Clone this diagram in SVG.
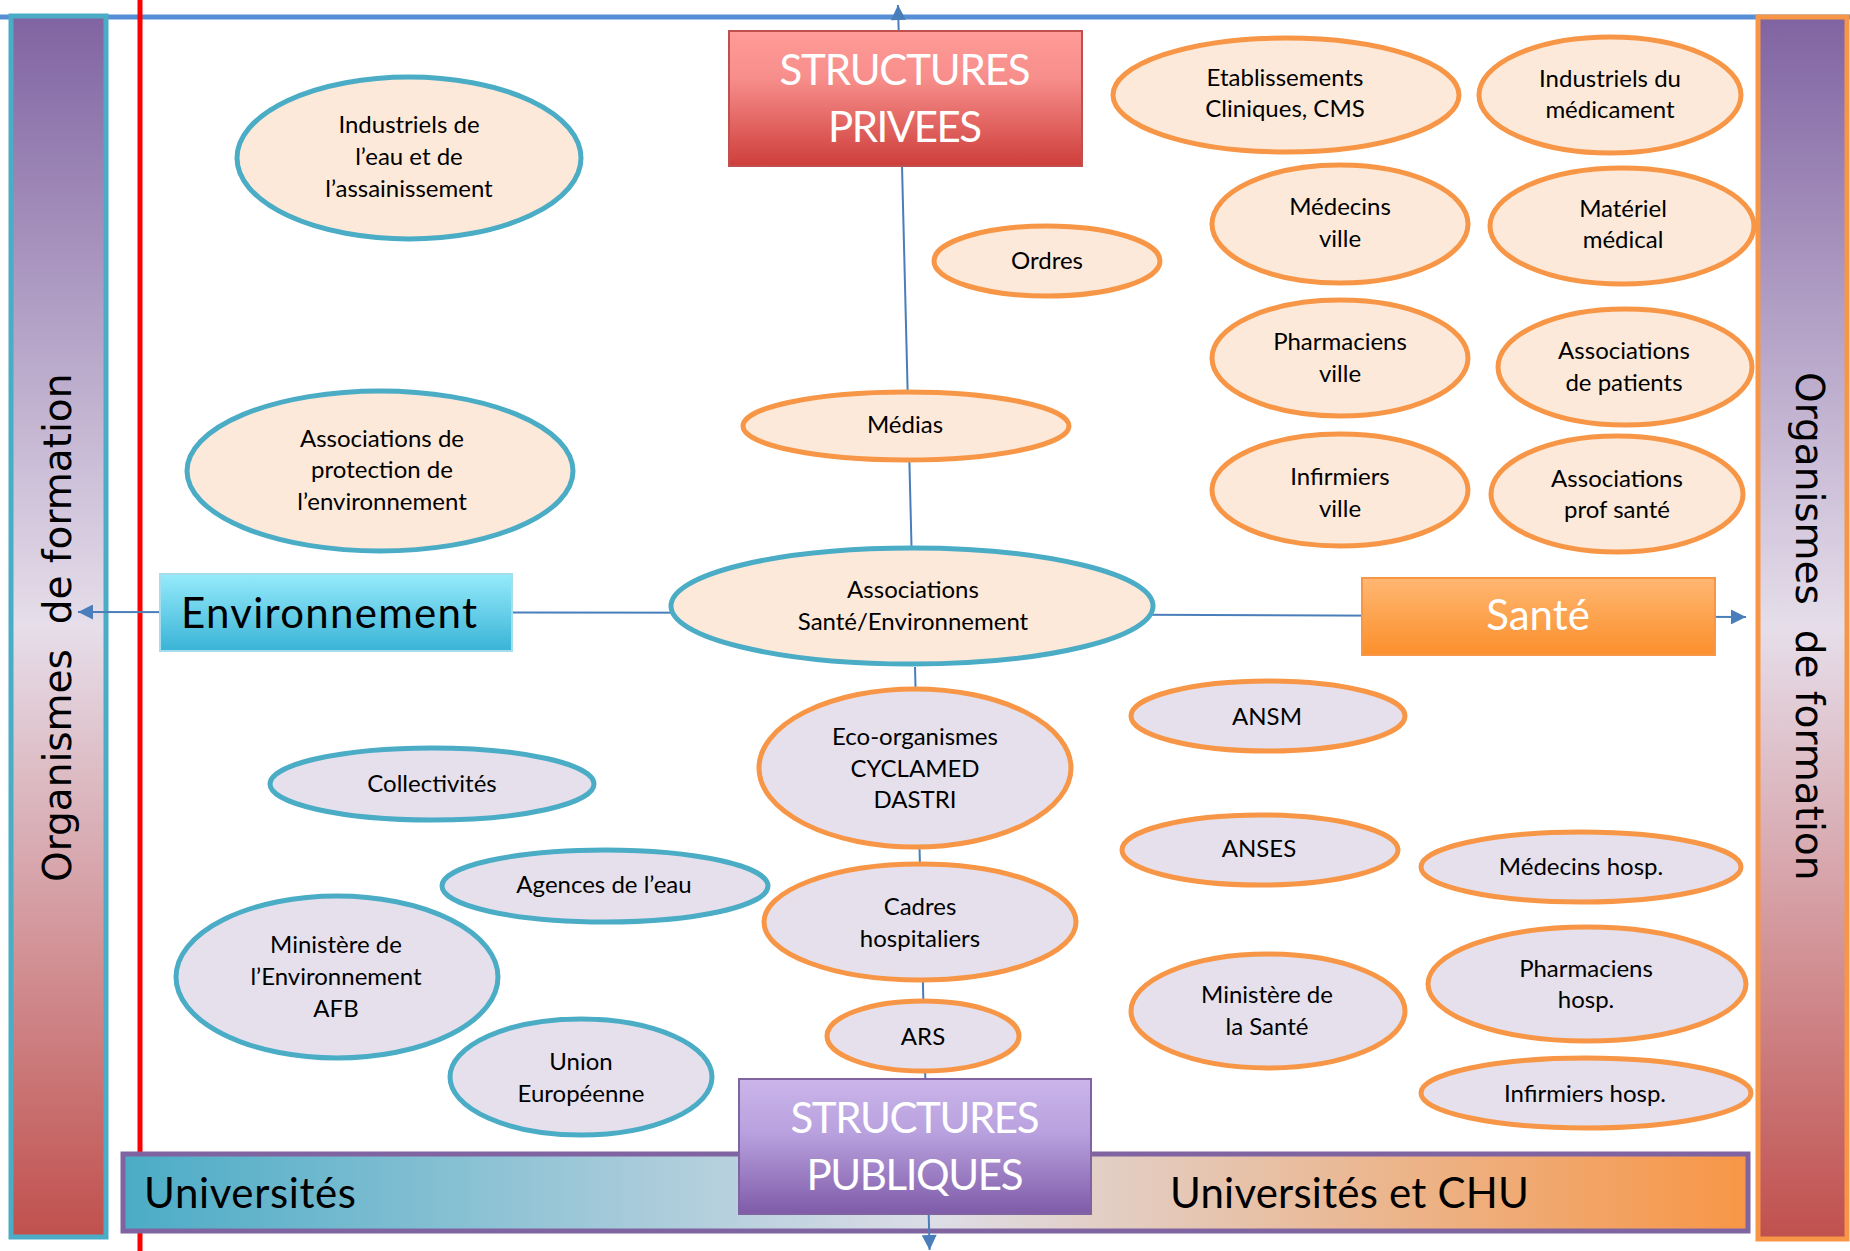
<svg xmlns="http://www.w3.org/2000/svg" width="1850" height="1251" viewBox="0 0 1850 1251">
<style>
.ep{fill:#FDE9D9}
.el{fill:#E5E0EC}
.st{stroke:#4BACC6;stroke-width:5}
.so{stroke:#F79646;stroke-width:5}
.t{font-family:Lato,'Liberation Sans',sans-serif;font-size:24px;text-anchor:middle;fill:#000}
.big{font-family:Lato,'Liberation Sans',sans-serif;font-size:42px;fill:#000}
.w{fill:#FFFFFF}
.rot{font-family:'DejaVu Sans',sans-serif;font-size:39px;fill:#000;white-space:pre}
.cn{stroke:#4A7EBB;stroke-width:2;fill:none}
</style>
<defs>
<linearGradient id="gBar" x1="0" y1="0" x2="0" y2="1">
<stop offset="0" stop-color="#8064A2"/><stop offset="0.5" stop-color="#E6DEEA"/><stop offset="1" stop-color="#C0504D"/>
</linearGradient>
<linearGradient id="gUniv" x1="0" y1="0" x2="1" y2="0">
<stop offset="0" stop-color="#4BACC6"/><stop offset="0.5" stop-color="#DDDDE6"/><stop offset="1" stop-color="#F79646"/>
</linearGradient>
<linearGradient id="gPriv" x1="0" y1="0" x2="0" y2="1">
<stop offset="0" stop-color="#FF9B98"/><stop offset="0.35" stop-color="#F78E8B"/><stop offset="1" stop-color="#CE3E3B"/>
</linearGradient>
<linearGradient id="gEnv" x1="0" y1="0" x2="0" y2="1">
<stop offset="0" stop-color="#96EBFB"/><stop offset="1" stop-color="#39B3D6"/>
</linearGradient>
<linearGradient id="gSante" x1="0" y1="0" x2="0" y2="1">
<stop offset="0" stop-color="#FFB772"/><stop offset="1" stop-color="#FB8F2C"/>
</linearGradient>
<linearGradient id="gPub" x1="0" y1="0" x2="0" y2="1">
<stop offset="0" stop-color="#CBB5EA"/><stop offset="0.4" stop-color="#B8A1DE"/><stop offset="1" stop-color="#7F5BA8"/>
</linearGradient>
<marker id="arr" viewBox="0 0 10 10" refX="10" refY="5" markerUnits="userSpaceOnUse" markerWidth="16" markerHeight="15" orient="auto">
<path d="M0,0 L10,5 L0,10 z" fill="#4A7EBB"/>
</marker>
</defs>

<rect x="0" y="0" width="1850" height="1251" fill="#FFFFFF"/>

<g id="frame">
<line x1="0" y1="17" x2="1850" y2="17" stroke="#558ED5" stroke-width="5"/>
<line x1="140" y1="0" x2="140" y2="1251" stroke="#FF0000" stroke-width="5"/>
</g>

<g id="bar-left">
<rect x="11" y="16" width="95" height="1221" fill="url(#gBar)" stroke="#4BACC6" stroke-width="5"/>
<text class="rot" transform="translate(71,882) rotate(-90)">Organismes  de formation</text>
</g>

<g id="bar-right">
<rect x="1758" y="17" width="89" height="1222" fill="url(#gBar)" stroke="#F79646" stroke-width="5"/>
<text class="rot" transform="translate(1796,372) rotate(90)">Organismes  de formation</text>
</g>

<g id="bar-universites">
<rect x="123" y="1154" width="1625" height="77" fill="url(#gUniv)" stroke="#8064A2" stroke-width="5"/>
<text class="big" x="144" y="1208" textLength="212" lengthAdjust="spacing">Universités</text>
<text class="big" x="1170" y="1208" textLength="359" lengthAdjust="spacing">Universités et CHU</text>
</g>

<g id="connectors">
<line class="cn" x1="911.5" y1="546" x2="898" y2="5" marker-end="url(#arr)"/>
<line class="cn" x1="915" y1="667" x2="929.6" y2="1250" marker-end="url(#arr)"/>
<line class="cn" x1="912" y1="613" x2="78" y2="612" marker-end="url(#arr)"/>
<line class="cn" x1="912" y1="614" x2="1746" y2="617" marker-end="url(#arr)"/>
</g>

<g id="n-privees">
<rect x="729" y="31" width="353" height="135" fill="url(#gPriv)" stroke="#C0504D" stroke-width="2"/>
<text class="big w" x="905" y="85" text-anchor="middle" textLength="251" lengthAdjust="spacing">STRUCTURES</text>
<text class="big w" x="905" y="142" text-anchor="middle" textLength="154" lengthAdjust="spacing">PRIVEES</text>
</g>

<g id="n-publiques">
<rect x="739" y="1079" width="352" height="135" fill="url(#gPub)" stroke="#8064A2" stroke-width="2"/>
<text class="big w" x="915" y="1133" text-anchor="middle" textLength="249" lengthAdjust="spacing">STRUCTURES</text>
<text class="big w" x="915" y="1190" text-anchor="middle" textLength="217" lengthAdjust="spacing">PUBLIQUES</text>
</g>

<g id="n-environnement">
<rect x="160" y="574" width="352" height="77" fill="url(#gEnv)" stroke="#A5DDEC" stroke-width="2"/>
<text class="big" x="181" y="628" textLength="296" lengthAdjust="spacing">Environnement</text>
</g>

<g id="n-sante">
<rect x="1362" y="578" width="353" height="77" fill="url(#gSante)" stroke="#F79646" stroke-width="2"/>
<text class="big w" x="1538" y="630" text-anchor="middle">Santé</text>
</g>

<g id="n-industriels-eau">
<ellipse cx="409" cy="158" rx="172" ry="81" class="ep st"/>
<text class="t"><tspan x="409" y="133">Industriels de</tspan><tspan x="409" y="165">l’eau et de</tspan><tspan x="409" y="197">l’assainissement</tspan></text>
</g>

<g id="n-assoc-protection">
<ellipse cx="380" cy="471" rx="193" ry="80" class="ep st"/>
<text class="t"><tspan x="382" y="447">Associations de</tspan><tspan x="382" y="478">protection de</tspan><tspan x="382" y="510">l’environnement</tspan></text>
</g>

<g id="n-collectivites">
<ellipse cx="432" cy="784" rx="162" ry="36" class="el st"/>
<text class="t" x="432" y="792">Collectivités</text>
</g>

<g id="n-agences-eau">
<ellipse cx="605" cy="886" rx="163" ry="36" class="el st"/>
<text class="t" x="604" y="893">Agences de l’eau</text>
</g>

<g id="n-ministere-env">
<ellipse cx="337" cy="977" rx="161" ry="81" class="el st"/>
<text class="t"><tspan x="336" y="953">Ministère de</tspan><tspan x="336" y="985">l’Environnement</tspan><tspan x="336" y="1017">AFB</tspan></text>
</g>

<g id="n-union-europeenne">
<ellipse cx="581" cy="1077" rx="131" ry="58" class="el st"/>
<text class="t"><tspan x="581" y="1070">Union</tspan><tspan x="581" y="1102">Européenne</tspan></text>
</g>

<g id="n-medias">
<ellipse cx="906" cy="426" rx="163" ry="34" class="ep so"/>
<text class="t" x="905" y="433">Médias</text>
</g>

<g id="n-ordres">
<ellipse cx="1047" cy="261" rx="113" ry="35" class="ep so"/>
<text class="t" x="1047" y="269">Ordres</text>
</g>

<g id="n-etablissements">
<ellipse cx="1286" cy="95" rx="173" ry="57" class="ep so"/>
<text class="t"><tspan x="1285" y="86">Etablissements</tspan><tspan x="1285" y="117">Cliniques, CMS</tspan></text>
</g>

<g id="n-industriels-medicament">
<ellipse cx="1610" cy="95" rx="131" ry="58" class="ep so"/>
<text class="t"><tspan x="1610" y="87">Industriels du</tspan><tspan x="1610" y="118">médicament</tspan></text>
</g>

<g id="n-medecins-ville">
<ellipse cx="1340" cy="224" rx="128" ry="59" class="ep so"/>
<text class="t"><tspan x="1340" y="215">Médecins</tspan><tspan x="1340" y="247">ville</tspan></text>
</g>

<g id="n-materiel-medical">
<ellipse cx="1622" cy="226" rx="132" ry="58" class="ep so"/>
<text class="t"><tspan x="1623" y="217">Matériel</tspan><tspan x="1623" y="248">médical</tspan></text>
</g>

<g id="n-pharmaciens-ville">
<ellipse cx="1340" cy="358" rx="128" ry="58" class="ep so"/>
<text class="t"><tspan x="1340" y="350">Pharmaciens</tspan><tspan x="1340" y="382">ville</tspan></text>
</g>

<g id="n-assoc-patients">
<ellipse cx="1625" cy="367" rx="127" ry="58" class="ep so"/>
<text class="t"><tspan x="1624" y="359">Associations</tspan><tspan x="1624" y="391">de patients</tspan></text>
</g>

<g id="n-infirmiers-ville">
<ellipse cx="1340" cy="490" rx="128" ry="56" class="ep so"/>
<text class="t"><tspan x="1340" y="485">Infirmiers</tspan><tspan x="1340" y="517">ville</tspan></text>
</g>

<g id="n-assoc-prof-sante">
<ellipse cx="1617" cy="494" rx="126" ry="58" class="ep so"/>
<text class="t"><tspan x="1617" y="487">Associations</tspan><tspan x="1617" y="518">prof santé</tspan></text>
</g>

<g id="n-assoc-sante-env">
<ellipse cx="912" cy="606" rx="241" ry="58" class="ep st"/>
<text class="t"><tspan x="913" y="598">Associations</tspan><tspan x="913" y="630">Santé/Environnement</tspan></text>
</g>

<g id="n-eco-organismes">
<ellipse cx="915" cy="768" rx="156" ry="79" class="el so"/>
<text class="t"><tspan x="915" y="745">Eco-organismes</tspan><tspan x="915" y="777">CYCLAMED</tspan><tspan x="915" y="808">DASTRI</tspan></text>
</g>

<g id="n-cadres">
<ellipse cx="920" cy="922" rx="156" ry="58" class="el so"/>
<text class="t"><tspan x="920" y="915">Cadres</tspan><tspan x="920" y="947">hospitaliers</tspan></text>
</g>

<g id="n-ars">
<ellipse cx="923" cy="1036" rx="96" ry="35" class="el so"/>
<text class="t" x="923" y="1045">ARS</text>
</g>

<g id="n-ansm">
<ellipse cx="1268" cy="716" rx="137" ry="35" class="el so"/>
<text class="t" x="1267" y="725">ANSM</text>
</g>

<g id="n-anses">
<ellipse cx="1260" cy="850" rx="138" ry="35" class="el so"/>
<text class="t" x="1259" y="857">ANSES</text>
</g>

<g id="n-ministere-sante">
<ellipse cx="1268" cy="1011" rx="137" ry="57" class="el so"/>
<text class="t"><tspan x="1267" y="1003">Ministère de</tspan><tspan x="1267" y="1035">la Santé</tspan></text>
</g>

<g id="n-medecins-hosp">
<ellipse cx="1581" cy="867" rx="160" ry="35" class="el so"/>
<text class="t" x="1581" y="875">Médecins hosp.</text>
</g>

<g id="n-pharmaciens-hosp">
<ellipse cx="1587" cy="984" rx="159" ry="57" class="el so"/>
<text class="t"><tspan x="1586" y="977">Pharmaciens</tspan><tspan x="1586" y="1008">hosp.</tspan></text>
</g>

<g id="n-infirmiers-hosp">
<ellipse cx="1586" cy="1093" rx="165" ry="35" class="el so"/>
<text class="t" x="1585" y="1102">Infirmiers hosp.</text>
</g>
</svg>
